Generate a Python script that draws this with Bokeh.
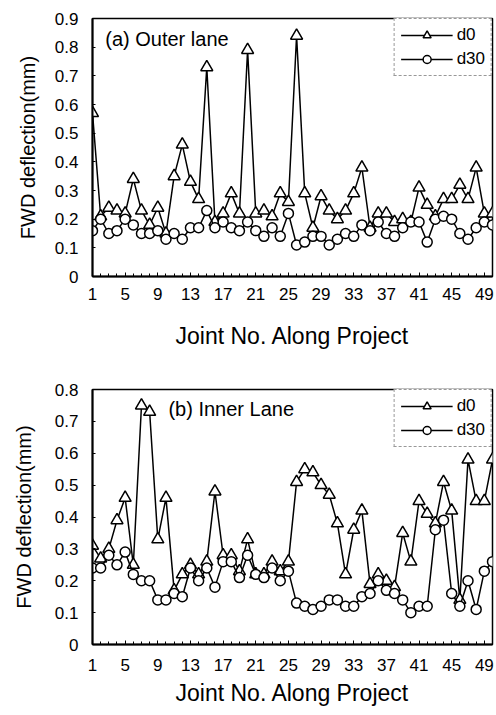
from bokeh.plotting import figure
from bokeh.models import Range1d, FixedTicker, CustomJSTickFormatter, Label, Legend, LegendItem
from bokeh.layouts import column
from bokeh.embed import file_html
from bokeh.resources import INLINE

joints = list(range(1, 51))
x_tick_labels = [1, 5, 9, 13, 17, 21, 25, 29, 33, 37, 41, 45, 49]
y_ticks_top = [0, 0.1, 0.2, 0.3, 0.4, 0.5, 0.6, 0.7, 0.8, 0.9]
y_ticks_bottom = [0, 0.1, 0.2, 0.3, 0.4, 0.5, 0.6, 0.7, 0.8]

outer_d0 = [0.57, 0.21, 0.24, 0.23, 0.22, 0.34, 0.23, 0.18, 0.24, 0.15,
            0.35, 0.46, 0.33, 0.27, 0.73, 0.19, 0.22, 0.29, 0.22, 0.79,
            0.22, 0.23, 0.21, 0.29, 0.26, 0.84, 0.29, 0.17, 0.28, 0.23,
            0.20, 0.23, 0.29, 0.38, 0.17, 0.22, 0.22, 0.19, 0.20, 0.19,
            0.31, 0.25, 0.21, 0.27, 0.27, 0.32, 0.27, 0.38, 0.22, 0.22]
outer_d30 = [0.16, 0.20, 0.15, 0.16, 0.20, 0.18, 0.15, 0.15, 0.16, 0.13,
             0.15, 0.13, 0.17, 0.17, 0.23, 0.17, 0.19, 0.17, 0.16, 0.19,
             0.16, 0.14, 0.17, 0.14, 0.22, 0.11, 0.12, 0.14, 0.14, 0.11,
             0.13, 0.15, 0.14, 0.18, 0.16, 0.19, 0.15, 0.14, 0.17, 0.19,
             0.19, 0.12, 0.20, 0.21, 0.20, 0.15, 0.13, 0.17, 0.19, 0.18]
inner_d0 = [0.31, 0.27, 0.30, 0.39, 0.46, 0.25, 0.75, 0.73, 0.33, 0.46,
            0.17, 0.22, 0.25, 0.22, 0.26, 0.48, 0.28, 0.28, 0.23, 0.33,
            0.22, 0.22, 0.26, 0.23, 0.26, 0.51, 0.55, 0.54, 0.50, 0.47,
            0.38, 0.22, 0.36, 0.42, 0.19, 0.22, 0.20, 0.18, 0.35, 0.26,
            0.45, 0.41, 0.38, 0.51, 0.42, 0.14, 0.58, 0.45, 0.45, 0.58]
inner_d30 = [0.24, 0.24, 0.28, 0.25, 0.29, 0.22, 0.20, 0.20, 0.14, 0.14,
             0.16, 0.15, 0.24, 0.20, 0.24, 0.18, 0.26, 0.26, 0.21, 0.28,
             0.22, 0.21, 0.24, 0.20, 0.23, 0.13, 0.12, 0.11, 0.12, 0.14,
             0.14, 0.12, 0.12, 0.15, 0.16, 0.20, 0.17, 0.16, 0.14, 0.10,
             0.12, 0.12, 0.36, 0.39, 0.16, 0.12, 0.20, 0.11, 0.23, 0.26]

FONT = "Liberation Sans"


def make_chart(d0, d30, y_ticks, ymax, note, note_x, note_y, height,
               b_left, b_right, b_top, b_bottom, tick_standoff, title_standoff,
               ytitle_standoff):
    p = figure(width=496, height=height, output_backend="svg", toolbar_location=None,
               x_range=Range1d(1, 50), y_range=Range1d(0, ymax),
               min_border_left=b_left, min_border_right=b_right,
               min_border_top=b_top, min_border_bottom=b_bottom)
    p.xgrid.visible = False
    p.ygrid.visible = False
    p.outline_line_color = "black"
    p.outline_line_width = 1.5
    p.background_fill_color = "white"
    p.border_fill_color = "white"

    xa = p.xaxis[0]
    xa.ticker = FixedTicker(ticks=x_tick_labels, minor_ticks=joints)
    xa.axis_label = "Joint No. Along Project"
    xa.axis_label_text_font = FONT
    xa.axis_label_text_font_style = "normal"
    xa.axis_label_text_font_size = "23px"
    xa.axis_label_text_color = "black"
    xa.axis_label_standoff = title_standoff
    xa.major_label_text_font = FONT
    xa.major_label_text_font_size = "17px"
    xa.major_label_text_color = "black"
    xa.major_label_standoff = tick_standoff
    xa.major_tick_in = 4
    xa.major_tick_out = 0
    xa.minor_tick_in = 3
    xa.minor_tick_out = 0
    xa.axis_line_width = 2
    xa.axis_line_color = "black"
    xa.major_tick_line_color = "black"
    xa.minor_tick_line_color = "black"

    ya = p.yaxis[0]
    ya.ticker = FixedTicker(ticks=y_ticks)
    ya.formatter = CustomJSTickFormatter(code="return tick == 0 ? '0' : tick.toFixed(1);")
    ya.axis_label = "FWD deflection(mm)"
    ya.axis_label_text_font = FONT
    ya.axis_label_text_font_style = "normal"
    ya.axis_label_text_font_size = "20px"
    ya.axis_label_text_color = "black"
    ya.axis_label_standoff = ytitle_standoff
    ya.major_label_text_font = FONT
    ya.major_label_text_font_size = "17px"
    ya.major_label_text_color = "black"
    ya.major_label_standoff = 14
    ya.major_tick_in = 3
    ya.major_tick_out = 0
    ya.minor_tick_line_color = None
    ya.axis_line_width = 2
    ya.axis_line_color = "black"
    ya.major_tick_line_color = "black"

    l0 = p.line(joints, d0, line_color="black", line_width=1.5)
    m0 = p.scatter(joints, d0, marker="triangle", size=12, fill_color="white",
                   line_color="black", line_width=1.5)
    l1 = p.line(joints, d30, line_color="black", line_width=1.5)
    m1 = p.scatter(joints, d30, marker="circle", size=10, fill_color="white",
                   line_color="black", line_width=1.5)

    legend = Legend(items=[LegendItem(label="d0", renderers=[l0, m0]),
                           LegendItem(label="d30", renderers=[l1, m1])],
                    location="top_right", margin=0, padding=6, spacing=4,
                    glyph_width=52, glyph_height=20, label_height=20,
                    label_standoff=4,
                    label_text_font=FONT, label_text_font_size="17px",
                    label_text_color="black",
                    border_line_color="#333333", border_line_width=1,
                    border_line_dash="4 2",
                    background_fill_color="white", background_fill_alpha=1)
    p.add_layout(legend)

    p.add_layout(Label(x=note_x, y=note_y, text=note, text_font=FONT,
                       text_font_size="20px", text_color="black",
                       text_baseline="middle", text_align="left"))
    return p


top = make_chart(outer_d0, outer_d30, y_ticks_top, 0.9, "(a) Outer lane", 2.56, 0.827,
                 354, 84, 4, 18, 78, 11, 20, 13)
bottom = make_chart(inner_d0, inner_d30, y_ticks_bottom, 0.8, "(b) Inner Lane", 10.3, 0.74,
                    360, 92, 2, 35, 70, 14, 6, 17)

layout = column(top, bottom, spacing=0)
open("out.html", "w").write(file_html(layout, INLINE))
